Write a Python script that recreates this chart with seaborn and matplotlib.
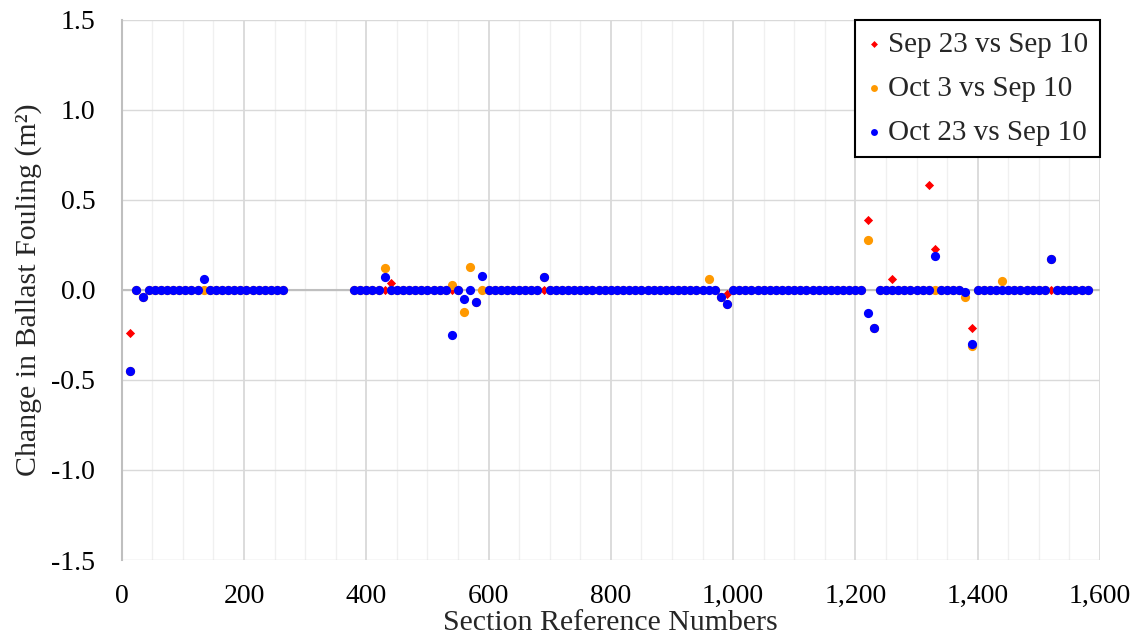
import matplotlib
matplotlib.use("Agg")
import matplotlib.pyplot as plt
import matplotlib.ticker as mticker
import seaborn as sns
import pandas as pd

# ---- data ----
section_group1 = list(range(14, 265, 10))     # first run of sections
section_group2 = list(range(380, 1581, 10))   # second run of sections

# Non-zero changes (m^2); all other sections read as 0.0
sep23_changes = {14: -0.24, 34: -0.04, 560: -0.05, 580: -0.068, 440: 0.04,
                 980: -0.04, 990: -0.02, 1220: 0.39, 1230: -0.21, 1260: 0.06,
                 1320: 0.58, 1330: 0.23, 1380: -0.01, 1390: -0.21}
oct3_changes = {14: -0.45, 34: -0.04, 430: 0.12, 540: 0.03, 560: -0.12,
                570: 0.13, 580: -0.068, 690: 0.07, 960: 0.06, 980: -0.04,
                990: -0.08, 1220: 0.28, 1230: -0.21, 1380: -0.04, 1390: -0.31,
                1440: 0.05, 1520: 0.17}
oct23_changes = {14: -0.45, 34: -0.04, 134: 0.06, 430: 0.07, 540: -0.25,
                 560: -0.05, 580: -0.068, 590: 0.077, 690: 0.07, 980: -0.04,
                 990: -0.08, 1220: -0.13, 1230: -0.21, 1330: 0.19,
                 1380: -0.01, 1390: -0.30, 1520: 0.17}

series_names = ["Sep 23 vs Sep 10", "Oct 3 vs Sep 10", "Oct 23 vs Sep 10"]
x_ticks = [0, 200, 400, 600, 800, 1000, 1200, 1400, 1600]
y_ticks = [-1.5, -1.0, -0.5, 0.0, 0.5, 1.0, 1.5]

sections = section_group1 + section_group2
frames = []
for name, ch in zip(series_names, [sep23_changes, oct3_changes, oct23_changes]):
    frames.append(pd.DataFrame({"section": sections,
                                "change": [ch.get(s, 0.0) for s in sections],
                                "series": name}))

# ---- style ----
sns.set_style("white")
plt.rcParams["font.family"] = ["Liberation Serif", "DejaVu Serif"]
plt.rcParams["axes.unicode_minus"] = False

fig = plt.figure(figsize=(11.41, 6.40), dpi=100)
ax = fig.add_axes([0.1067, 0.125, 0.964 - 0.1067, 0.969 - 0.125])

colors = ["#ff0000", "#ff9900", "#0000ff"]
markers = ["D", "o", "o"]
sizes = [22, 44, 44]
for df, c, m, s in zip(frames, colors, markers, sizes):
    sns.scatterplot(data=df, x="section", y="change", color=c, marker=m, s=s,
                    linewidth=0, ax=ax, label=df["series"].iloc[0], zorder=3)

ax.set_xlim(0, 1600)
ax.set_ylim(-1.5, 1.5)
ax.set_xticks(x_ticks)
ax.set_xticks(list(range(0, 1601, 50)), minor=True)
ax.set_yticks(y_ticks)
ax.xaxis.set_major_formatter(mticker.FuncFormatter(lambda v, p: f"{int(v):,}"))
ax.yaxis.set_major_formatter(mticker.FuncFormatter(lambda v, p: f"{v:.1f}"))

ax.grid(which="major", axis="x", color="#d9d9d9", linewidth=1.3, zorder=0)
ax.grid(which="minor", axis="x", color="#f0f0f0", linewidth=1.0, zorder=0)
ax.grid(which="major", axis="y", color="#d9d9d9", linewidth=1.0, zorder=0)
ax.axhline(0, color="#bfbfbf", linewidth=1.5, zorder=1)
ax.set_axisbelow(True)

for sp in ["top", "right", "bottom"]:
    ax.spines[sp].set_visible(False)
ax.spines["left"].set_color("#bfbfbf")
ax.spines["left"].set_linewidth(1.5)

ax.tick_params(which="both", length=0, labelsize=20, colors="#000000")
ax.tick_params(axis="x", pad=17)
ax.tick_params(axis="y", pad=19)
ax.set_xlabel("Section Reference Numbers", fontsize=21.5, labelpad=1)
ax.set_ylabel("Change in Ballast Fouling (m²)", fontsize=21.5, labelpad=7)

leg = ax.legend(loc="upper right", fontsize=21, frameon=True, fancybox=False,
                borderaxespad=0, markerscale=0.75, handletextpad=0.25,
                handlelength=0.5, labelspacing=0.6, borderpad=0.4)
leg.get_frame().set_edgecolor("black")
leg.get_frame().set_linewidth(1.5)
leg.get_frame().set_facecolor("white")
leg.get_frame().set_alpha(1)

fig.savefig("out.png", dpi=100)
